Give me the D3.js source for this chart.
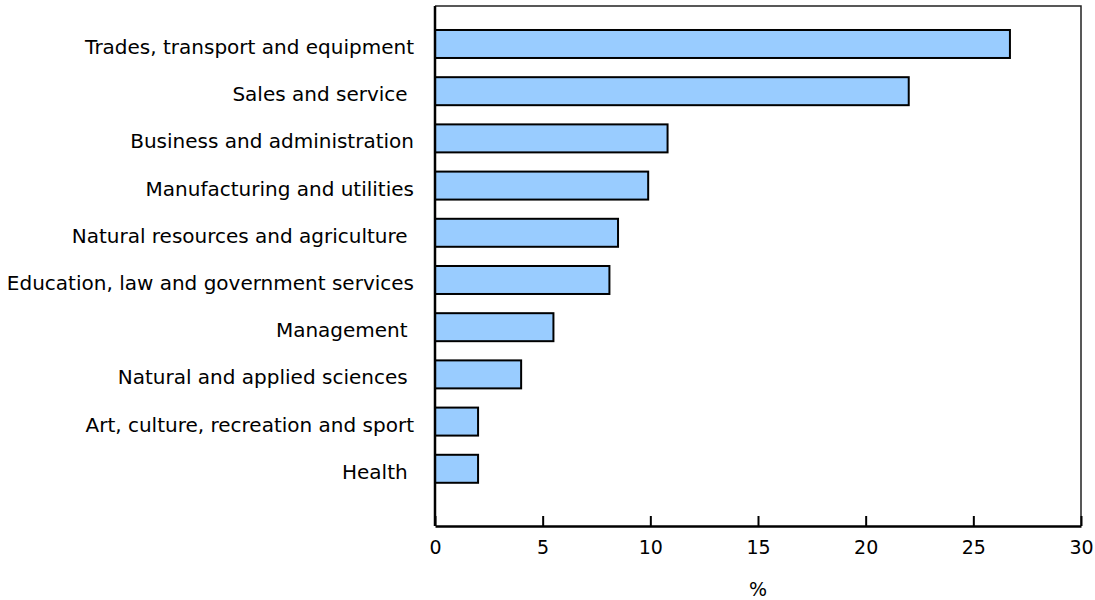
<!DOCTYPE html>
<html lang="en">
<head>
  <meta charset="utf-8">
  <title>Occupations</title>
  <script src="https://d3js.org/d3.v7.min.js"></script>
  <style>
    body { margin: 0; background: #fff; }
    text { font-family: "DejaVu Sans", Verdana, sans-serif; fill: #000; }
  </style>
</head>
<body>
  <div id="vis"></div>
  <script>
    // data
    var categorias = [
      "Trades, transport and equipment",
      "Sales and service ",
      "Business and administration",
      "Manufacturing and utilities",
      "Natural resources and agriculture ",
      "Education, law and government services",
      "Management ",
      "Natural and applied sciences ",
      "Art, culture, recreation and sport",
      "Health "
    ];
    var valores = [26.7, 22.0, 10.8, 9.9, 8.5, 8.1, 5.5, 4.0, 2.0, 2.0];
    var ticks = [0, 5, 10, 15, 20, 25, 30];

    var largura = 1095, altura = 600;
    var margin = { top: 6, right: 14, bottom: 74, left: 435 };
    var larguraVis = largura - margin.left - margin.right,
      alturaVis = altura - margin.top - margin.bottom;

    var svg = d3.select('#vis').append('svg')
      .attr('width', largura)
      .attr('height', altura);

    var g = svg.append('g')
      .attr('transform', 'translate(' + margin.left + ',' + margin.top + ')');

    var x = d3.scaleLinear().domain([0, 30]).range([0, larguraVis]);

    var y = d3.scaleBand()
      .domain(categorias)
      .range([0, alturaVis])
      .paddingInner(0.407)
      .paddingOuter(0.712)
      .align(0.357);

    // frame top and right
    g.append('path')
      .attr('d', 'M0,0H' + larguraVis + 'V' + alturaVis)
      .attr('fill', 'none')
      .attr('stroke', '#222')
      .attr('stroke-width', 1.5);

    g.selectAll('rect.bar')
      .data(valores)
      .enter()
      .append('rect')
      .attr('class', 'bar')
      .attr('x', 0)
      .attr('y', (d, i) => y(categorias[i]))
      .attr('width', d => x(d))
      .attr('height', y.bandwidth())
      .attr('fill', '#99ccff')
      .attr('stroke', '#000')
      .attr('stroke-width', 2);

    // category labels
    g.selectAll('text.cat')
      .data(categorias)
      .enter()
      .append('text')
      .attr('class', 'cat')
      .attr('x', -21)
      .attr('y', d => y(d) + y.bandwidth() / 2)
      .attr('dy', '0.5em')
      .attr('text-anchor', 'end')
      .attr('xml:space', 'preserve')
      .style('white-space', 'pre')
      .style('font-size', '20px')
      .text(d => d);

    // x axis
    var eixoX = g.append('g')
      .attr('transform', 'translate(0,' + alturaVis + ')')
      .call(d3.axisBottom(x).tickValues(ticks).tickSize(-10).tickSizeOuter(0).tickPadding(15));
    eixoX.select('.domain').attr('stroke', '#000').attr('stroke-width', 2.5);
    eixoX.selectAll('.tick line').attr('stroke', '#000').attr('stroke-width', 2);
    eixoX.selectAll('.tick text').style('font-size', '19px').attr('font-family', null);

    // y axis line
    g.append('line')
      .attr('x1', 0).attr('x2', 0)
      .attr('y1', 0).attr('y2', alturaVis)
      .attr('stroke', '#000')
      .attr('stroke-width', 2.5);

    g.append('text')
      .attr('x', larguraVis / 2)
      .attr('y', alturaVis + 70)
      .attr('text-anchor', 'middle')
      .style('font-size', '19px')
      .text('%');
  </script>
</body>
</html>
